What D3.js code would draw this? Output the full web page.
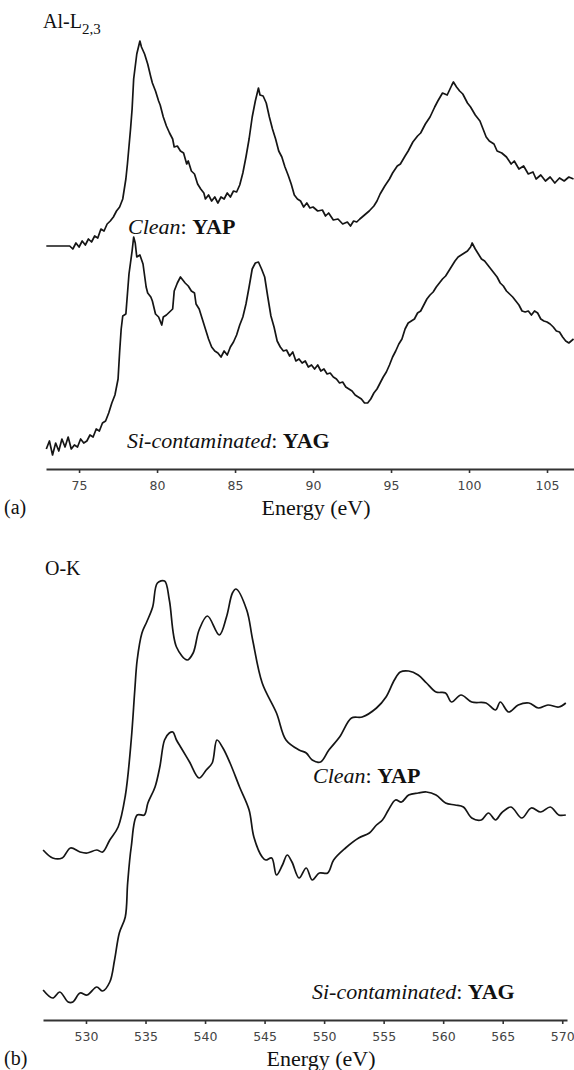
<!DOCTYPE html>
<html><head><meta charset="utf-8">
<script src="https://cdn.jsdelivr.net/npm/d3@7"></script>
<style>body{margin:0;background:#fff}svg{display:block}</style>
</head><body>
<svg id="c" width="574" height="1070"></svg>
<script>
// ---------- (a) Al-L2,3 edge ----------
const alTicks = [75, 80, 85, 90, 95, 100, 105];
const alYapE = [72.9,73.5,74.0,74.4,74.6,74.8,75.0,75.2,75.4,75.6,75.8,76.0,76.2,76.4,76.6,76.8,77.0,77.2,77.4,77.6,77.8,78.0,78.1,78.3,78.4,78.5,78.7,78.9,79.0,79.2,79.4,79.6,79.7,79.9,80.1,80.2,80.4,80.6,80.8,81.0,81.1,81.3,81.5,81.7,81.9,82.0,82.2,82.4,82.6,82.8,83.0,83.1,83.3,83.5,83.7,83.9,84.1,84.3,84.5,84.7,84.9,85.1,85.3,85.5,85.7,85.9,86.1,86.3,86.5,86.6,86.8,87.0,87.2,87.4,87.6,87.8,88.0,88.2,88.4,88.6,88.8,89.0,89.2,89.4,89.6,89.8,90.0,90.3,90.6,90.8,91.0,91.3,91.6,91.9,92.2,92.4,92.6,92.8,93.0,93.3,93.6,93.9,94.1,94.3,94.6,94.9,95.1,95.4,95.6,95.9,96.1,96.4,96.7,96.9,97.2,97.5,97.8,98.0,98.3,98.6,98.9,99.0,99.2,99.4,99.6,99.9,100.1,100.4,100.7,100.9,101.1,101.3,101.6,101.8,102.1,102.4,102.7,102.9,103.2,103.5,103.8,104.1,104.3,104.6,104.9,105.2,105.5,105.8,106.1,106.4,106.7];
const alYapI = [223,223,223,223,220,226,222,228,224,230,227,233,231,240,238,245,248,252,258,262,270,290,305,340,360,390,415,428,422,415,405,392,386,378,368,364,352,343,336,330,322,323,318,316,305,308,298,295,285,280,276,270,274,268,272,266,272,270,276,272,278,277,284,296,312,330,352,368,381,374,373,366,352,340,330,318,312,302,294,285,274,270,268,262,266,261,262,258,259,253,256,249,250,245,247,243,248,247,250,254,258,263,268,275,283,290,296,303,305,313,318,327,333,336,345,352,362,368,376,374,384,387,382,378,375,366,362,354,348,340,332,328,325,318,316,312,305,308,300,303,295,297,290,294,288,292,286,291,288,292,290];
const alYagE = [72.9,73.1,73.3,73.5,73.7,73.9,74.1,74.3,74.5,74.7,74.9,75.1,75.3,75.5,75.7,75.9,76.1,76.3,76.5,76.7,76.9,77.1,77.3,77.5,77.6,77.7,77.8,78.0,78.1,78.2,78.4,78.5,78.6,78.7,78.9,79.1,79.3,79.4,79.6,79.7,79.9,80.1,80.3,80.4,80.6,80.8,81.0,81.1,81.3,81.5,81.6,81.8,82.0,82.2,82.4,82.5,82.7,82.9,83.1,83.3,83.5,83.7,83.9,84.1,84.3,84.5,84.7,84.9,85.1,85.3,85.5,85.7,85.9,86.1,86.3,86.5,86.7,86.9,87.1,87.3,87.5,87.7,87.9,88.1,88.3,88.5,88.7,88.9,89.1,89.3,89.5,89.7,89.9,90.1,90.3,90.5,90.7,90.9,91.1,91.3,91.5,91.7,91.9,92.1,92.3,92.5,92.7,92.9,93.1,93.3,93.5,93.7,93.9,94.1,94.3,94.5,94.7,94.9,95.1,95.3,95.5,95.7,95.9,96.1,96.3,96.5,96.7,96.9,97.1,97.3,97.5,97.7,97.9,98.1,98.3,98.5,98.7,98.9,99.1,99.3,99.5,99.7,99.9,100.1,100.2,100.4,100.6,100.8,101.0,101.2,101.4,101.6,101.8,102.0,102.2,102.4,102.6,102.8,103.0,103.2,103.4,103.6,103.8,104.0,104.2,104.4,104.6,104.8,105.0,105.2,105.4,105.6,105.8,106.0,106.2,106.4,106.7];
const alYagI = [20,28,14,26,18,30,22,32,20,24,22,30,26,28,34,32,40,38,46,48,56,66,74,90,117,140,153,155,175,195,218,232,226,212,214,205,182,176,172,168,155,152,144,152,154,157,160,178,186,192,190,186,183,178,176,165,160,150,140,130,122,118,116,112,118,114,122,127,134,144,152,165,182,200,206,207,200,192,172,153,142,128,122,118,119,113,117,108,110,106,108,102,104,100,104,98,100,95,96,92,90,86,87,82,80,78,74,72,70,66,66,70,76,80,86,92,97,104,112,118,125,130,140,146,148,150,156,158,164,170,174,177,182,186,190,193,198,203,208,212,214,216,218,222,226,220,215,210,208,204,200,196,192,186,183,178,175,172,168,164,158,157,158,154,158,156,150,148,147,145,142,138,137,132,128,126,130];

// ---------- (b) O-K edge ----------
const okTicks = [530, 535, 540, 545, 550, 555, 560, 565, 570];
const okYapE = [526.4,527.2,528.0,528.7,529.5,530.1,530.9,531.4,532.0,532.7,533.3,533.8,534.1,534.3,534.7,535.1,535.6,536.0,536.6,537.0,537.6,538.5,539.0,539.5,540.2,541.2,541.8,542.3,542.6,543.5,544.0,544.8,546.0,546.8,547.9,548.5,549.0,549.7,550.4,551.3,552.3,553.2,554.4,555.2,555.9,556.4,557.1,557.9,558.6,559.4,560.2,560.7,561.5,562.4,563.6,564.4,564.8,565.5,566.3,567.2,568.0,568.8,569.7,570.3];
const okYapI = [170,162,162,172,168,167,170,168,180,193,224,280,330,360,387,398,413,437,439,420,373,360,367,390,404,385,403,427,431,410,380,337,307,280,270,267,260,258,270,283,302,303,312,323,340,348,349,345,337,328,327,318,325,318,317,310,318,308,315,317,312,315,313,317];
const okYagE = [526.4,527.2,527.8,528.5,528.9,529.5,530.1,530.9,531.4,532.0,532.4,532.8,533.3,533.5,533.8,534.3,534.9,535.2,535.8,536.2,536.6,537.0,537.3,537.6,538.0,538.7,539.5,540.1,540.6,541.0,541.5,542.1,542.9,543.7,544.1,544.8,545.1,545.6,546.0,546.5,546.9,547.3,547.9,548.5,549.0,549.6,550.3,550.8,551.8,552.9,553.8,554.4,554.9,555.4,556.0,556.5,557.1,557.9,558.6,559.4,560.2,561.0,561.7,562.4,563.2,563.8,564.4,564.9,565.7,566.6,567.4,568.2,569.0,569.7,570.3];
const okYagI = [30,22,28,18,18,27,25,33,29,38,60,87,103,137,173,205,205,217,233,253,280,287,288,280,272,258,242,250,257,280,272,257,233,210,183,163,160,162,145,155,165,158,142,152,140,147,147,160,172,182,187,195,200,210,220,218,225,227,228,225,217,215,213,202,200,207,200,207,213,202,212,208,213,205,205];

const svg = d3.select('#c');
const serif = "'Liberation Serif','Times New Roman',serif";

function drawPanel(p) {
  const x = d3.scaleLinear().domain(p.xDomain).range(p.xRange);
  const y = d3.scaleLinear().domain([0, 470]).range([p.axisY, p.axisY - 470]);
  const line = d3.line().x(d => x(d[0])).y(d => y(d[1])).curve(p.curve);
  p.series.forEach(s => {
    svg.append('path')
      .datum(d3.zip(s.e, s.v))
      .attr('d', line)
      .attr('fill', 'none')
      .attr('stroke', '#151515')
      .attr('stroke-width', 1.7)
      .attr('stroke-linejoin', 'round');
  });
  const ax = svg.append('g')
    .attr('transform', `translate(0,${p.axisY})`)
    .call(d3.axisBottom(x).tickValues(p.ticks).tickSize(4).tickSizeOuter(0).tickPadding(8));
  ax.select('.domain').attr('stroke', '#333').attr('stroke-width', 2);
  ax.selectAll('.tick line').attr('stroke', '#333').attr('stroke-width', 1.6);
  ax.selectAll('.tick text')
    .attr('fill', '#444')
    .style('font-family', "'DejaVu Sans',sans-serif")
    .style('font-size', '12.5px');
  // axis title
  svg.append('text').attr('x', p.titleX).attr('y', p.axisY + 46)
    .attr('text-anchor', 'middle').attr('font-family', serif).attr('font-size', 22)
    .attr('fill', '#111').text('Energy (eV)');
  // panel letter
  svg.append('text').attr('x', 4).attr('y', p.axisY + 45)
    .attr('font-family', serif).attr('font-size', 20).attr('fill', '#111').text(p.letter);
  // edge name
  const t = svg.append('text').attr('x', p.nameX).attr('y', p.nameY)
    .attr('font-family', serif).attr('font-size', 20).attr('fill', '#111');
  t.append('tspan').text(p.name);
  if (p.sub) t.append('tspan').attr('dy', 6).attr('font-size', 15).text(p.sub);
  // series labels
  p.labels.forEach(l => {
    const tx = svg.append('text').attr('x', l.x).attr('y', l.y)
      .attr('font-family', serif).attr('font-size', 22).attr('fill', '#111');
    tx.append('tspan').attr('font-style', 'italic').text(l.a);
    tx.append('tspan').text(': ');
    tx.append('tspan').attr('font-weight', 'bold').text(l.b);
  });
}

drawPanel({
  xDomain: [72.88, 106.73], xRange: [46, 574], axisY: 469, ticks: alTicks, curve: d3.curveLinear,
  titleX: 316, letter: '(a)', name: 'Al-L', sub: '2,3', nameX: 43, nameY: 28,
  series: [{e: alYapE, v: alYapI}, {e: alYagE, v: alYagI}],
  labels: [{x: 128, y: 234, a: 'Clean', b: 'YAP'}, {x: 127, y: 448, a: 'Si-contaminated', b: 'YAG'}]
});
drawPanel({
  xDomain: [526.39, 570.4], xRange: [43, 567], axisY: 1020, ticks: okTicks, curve: d3.curveCatmullRom,
  titleX: 321, letter: '(b)', name: 'O-K', sub: null, nameX: 45, nameY: 575,
  series: [{e: okYapE, v: okYapI}, {e: okYagE, v: okYagI}],
  labels: [{x: 313, y: 783, a: 'Clean', b: 'YAP'}, {x: 312, y: 999, a: 'Si-contaminated', b: 'YAG'}]
});
</script>
</body></html>
